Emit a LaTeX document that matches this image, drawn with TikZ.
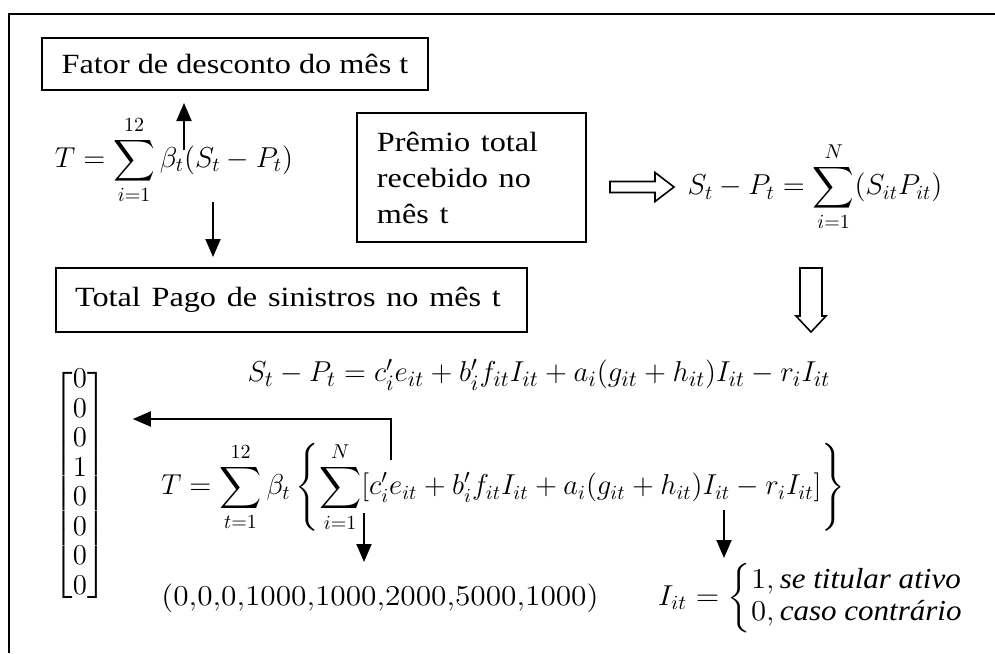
\documentclass[tikz,border=0pt]{standalone}
\usepackage{amsmath,amssymb}
\usepackage{fontspec}
\setmainfont{Liberation Serif}
\usetikzlibrary{arrows.meta,calc}

\tikzset{
  caixa/.style={draw,line width=1pt,inner sep=0pt,xscale=1.16,font=\fontsize{13.9}{18}\selectfont},
  formula/.style={inner sep=0pt,font=\fontsize{14.5}{18}\selectfont},
  seta/.style={->,line width=1pt},
  setaoca/.style={draw,line width=0.8pt,line join=miter}
}

\begin{document}
\begin{tikzpicture}[x=0.5pt,y=-0.5pt,>={Triangle[length=9pt,width=7.5pt]}]
  \useasboundingbox (0,0) rectangle (995,653);
  \draw[line width=1pt] (995,14) -| (9,653);

  \node[caixa,minimum width=166.4pt,minimum height=26pt] (fator) at (235,64) {Fator de desconto do mês t};
  \node[formula] (eqT) at (174,160) {$\displaystyle T=\sum_{i=1}^{12}\beta_t(S_t-P_t)$};
  \node[caixa,align=left,text width=81.5pt,inner xsep=8.6pt,minimum height=64.5pt] (premio) at (471.5,177.5)
    {Prêmio total\\recebido no\\mês t};
  \node[caixa,align=left,text width=186.6pt,inner xsep=8.2pt,minimum height=32pt] (total) at (291.5,300)
    {Total Pago de sinistros no mês t};
  \node[formula] (eqS) at (815,187) {$\displaystyle S_t-P_t=\sum_{i=1}^{N}(S_{it}P_{it})$};
  \node[formula,font=\fontsize{15.1}{18}\selectfont] (eqSP) at (539,375)
    {$S_t-P_t=c'_ie_{it}+b'_if_{it}I_{it}+a_i(g_{it}+h_{it})I_{it}-r_iI_{it}$};
  \node[formula] (vetor) at (80,485) {\renewcommand{\arraystretch}{0.82}$\begin{bmatrix}0\\0\\0\\1\\0\\0\\0\\0\end{bmatrix}$};
  \node[formula,font=\fontsize{14.65}{18}\selectfont] (eqTT) at (503,487)
    {$\displaystyle T=\sum_{t=1}^{12}\beta_t\left\{\sum_{i=1}^{N}[c'_ie_{it}+b'_if_{it}I_{it}+a_i(g_{it}+h_{it})I_{it}-r_iI_{it}]\right\}$};
  \node[formula,xscale=1.09] (lista) at (380,598) {$(0{,}0{,}0{,}1000{,}1000{,}2000{,}5000{,}1000)$};
  \node[formula,xscale=1.07] (indic) at (811,598)
    {\renewcommand{\arraystretch}{0.9}$I_{it}=\left\{\begin{array}{@{}l@{}}1,\textit{se titular ativo}\\0,\textit{caso contrário}\end{array}\right.$};

  \coordinate (a1) at (184,150);
  \draw[seta,shorten >=6pt] (a1) -- (a1 |- fator.south);
  \coordinate (a2) at (213,202);
  \draw[seta,shorten >=5pt] (a2) -- (a2 |- total.north);
  \coordinate (a3) at (391,460);
  \coordinate (a3t) at (391,419);
  \draw[seta,shorten >=13pt] (a3) -- (a3t) -- (a3t -| vetor.east);
  \coordinate (a4) at (364,513);
  \coordinate (a4b) at (364,562);
  \draw[seta] (a4) -- (a4b);
  \coordinate (a5) at (724,510);
  \coordinate (a5b) at (724,558);
  \draw[seta] (a5) -- (a5b);

  \draw[setaoca] (610,181.5) -- (655,181.5) -- (655,172.5) -- (674,187) -- (655,201.5) -- (655,192.5) -- (610,192.5) -- cycle;
  \draw[setaoca] (800,268) -- (822,268) -- (822,316) -- (826,316) -- (811,332) -- (796,316) -- (800,316) -- cycle;
\end{tikzpicture}
\end{document}
